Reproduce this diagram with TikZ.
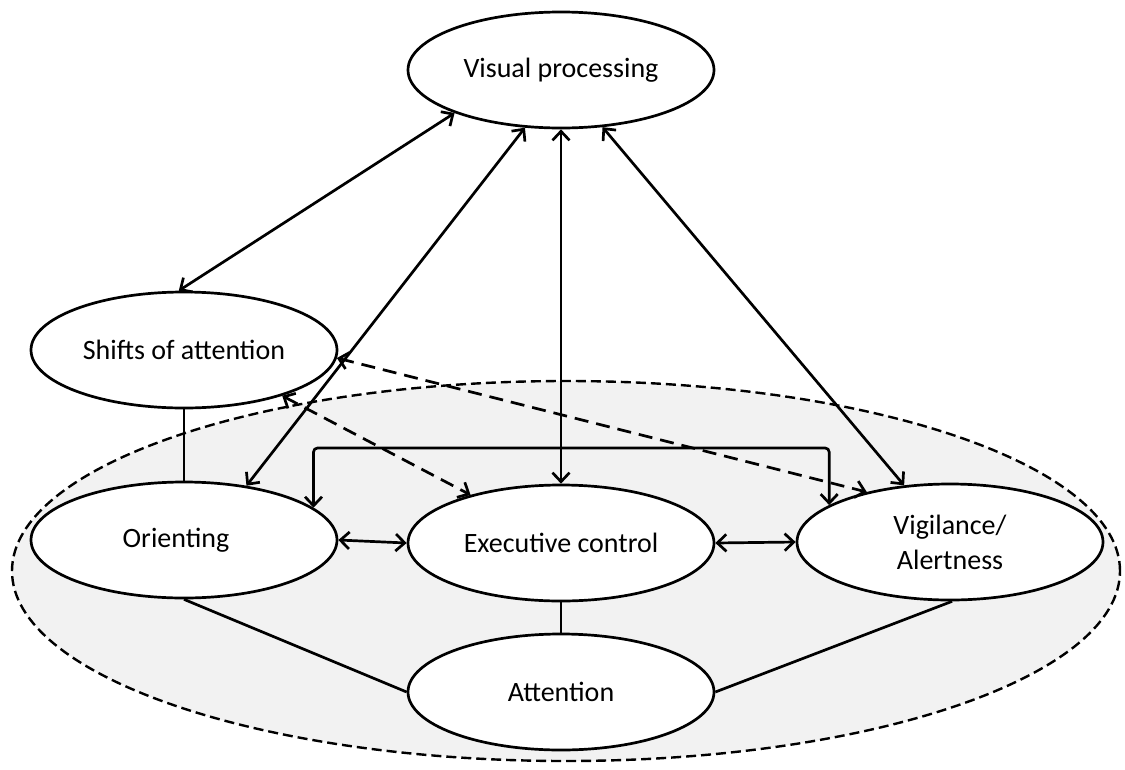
\documentclass[tikz,border=0pt]{standalone}
\usepackage{fontspec}
\setmainfont{Carlito}
\usetikzlibrary{arrows.meta,shapes.geometric}
\begin{document}
\begin{tikzpicture}[x=1pt,y=-1pt,
  every node/.style={font=\fontsize{28}{35}\selectfont},
  box/.style={ellipse,draw,line width=2.7pt,fill=white,inner sep=0pt,
    minimum width=306pt,minimum height=116pt,align=center},
  conn/.style={line width=2.7pt,{Straight Barb[length=9pt,width=17pt]}-{Straight Barb[length=9pt,width=17pt]}},
  dconn/.style={conn,dash pattern=on 14pt off 8pt},
  plain/.style={line width=2.7pt},
  group/.style={ellipse,draw,line width=2.4pt,dash pattern=on 10pt off 5pt,
    fill=black!5,inner sep=0pt,minimum width=1108pt,minimum height=380pt}
]
\useasboundingbox (0,0) rectangle (1125,769);
\node[group] (grp) at (566,571) {};
\node[box] (vis) at (561,70) {Visual processing};
\node[box] (shift) at (184,350) {Shifts of attention};
\node[box] (orient) at (184,540) {\raisebox{-4pt}{Orienting}\hspace*{16pt}};
\node[box] (exec) at (561,543) {Executive control};
\node[box] (vig) at (950,542) {Vigilance/\\Alertness};
\node[box] (att) at (561,692) {Attention};
% solid links
\draw[conn] (vis.202) -- (shift.95);
\draw[conn] (vis.238) -- (orient.41);
\draw[conn] (vis.south) -- (exec.north);
\draw[conn] (vis.306) -- (vig.129.5);
\draw[conn] (orient.east) -- (exec.west);
\draw[conn] (exec.east) -- (vig.west);
\draw[plain] (shift.south) -- (orient.north);
\draw[plain] (exec.south) -- (att.north);
\draw[plain] (orient.south) -- (att.west);
\draw[plain] (vig.272) -- (att.east);
% dashed links
\draw[dconn] (shift.357) -- (vig.149.5);
\draw[dconn] (shift.335) -- (exec.152);
% bracket
\draw[conn,rounded corners=4pt] (orient.14) -- (orient.14 |- 0,448) -| (vig.163);
\end{tikzpicture}
\end{document}
